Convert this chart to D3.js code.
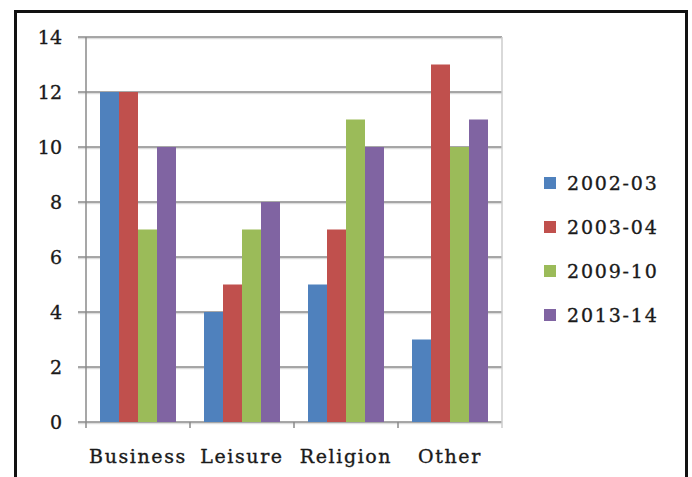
<!DOCTYPE html>
<html>
<head>
<meta charset="utf-8">
<script src="https://cdn.jsdelivr.net/npm/d3@7"></script>
<style>
  body { margin: 0; background: #fff; overflow: hidden; }
  svg { display: block; }
  text { font-family: "DejaVu Serif", serif; fill: #1a1a1a; stroke: #1a1a1a; stroke-width: 0.35px; }
</style>
</head>
<body>
<div id="chart"></div>
<script>
// chart data
const categories = ["Business", "Leisure", "Religion", "Other"];
const seriesNames = ["2002-03", "2003-04", "2009-10", "2013-14"];
const s2002 = [12, 4, 5, 3];
const s2003 = [12, 5, 7, 13];
const s2009 = [7, 7, 11, 10];
const s2013 = [10, 8, 10, 11];
const yTicks = [0, 2, 4, 6, 8, 10, 12, 14];
const colors = ["#4F81BD", "#C0504D", "#9BBB59", "#8064A2"];

const allSeries = [s2002, s2003, s2009, s2013];

const width = 692, height = 477;
const margin = { top: 37, left: 86 };
const innerWidth = 416, innerHeight = 385;

const svg = d3.select("#chart")
  .append("svg")
  .attr("width", width)
  .attr("height", height);

// outer frame (bottom edge falls off the picture)
svg.append("path")
  .attr("d", "M15.5,477 L15.5,11.5 L686.5,11.5 L686.5,477")
  .attr("fill", "none")
  .attr("stroke", "#111")
  .attr("stroke-width", 3);

const xScale = d3.scaleBand()
  .domain(categories)
  .range([0, innerWidth]);

const xInner = d3.scaleBand()
  .domain(seriesNames)
  .range([14, xScale.bandwidth() - 14]);

const yScale = d3.scaleLinear()
  .domain([0, 14])
  .range([innerHeight, 0]);

const inner = svg.append("g")
  .attr("transform", `translate(${margin.left}, ${margin.top})`);

// gridlines with a soft shadow under each
yTicks.forEach(t => {
  inner.append("line")
    .attr("x1", -8).attr("x2", innerWidth)
    .attr("y1", yScale(t) + 1.5).attr("y2", yScale(t) + 1.5)
    .attr("stroke", "#ddd").attr("stroke-width", 1.5);
  inner.append("line")
    .attr("x1", -8).attr("x2", innerWidth)
    .attr("y1", yScale(t)).attr("y2", yScale(t))
    .attr("stroke", "#8a8a8a").attr("stroke-width", 1.5);
});

// right edge of plot
inner.append("line")
  .attr("x1", innerWidth).attr("x2", innerWidth)
  .attr("y1", 0).attr("y2", innerHeight + 6)
  .attr("stroke", "#ccc").attr("stroke-width", 1.5);

// bars
const groups = inner.selectAll("g.cat")
  .data(categories)
  .join("g")
  .attr("class", "cat")
  .attr("transform", d => `translate(${xScale(d)}, 0)`);

groups.selectAll("rect")
  .data((c, i) => allSeries.map((s, j) => ({ name: seriesNames[j], value: s[i], color: colors[j] })))
  .join("rect")
  .attr("x", d => xInner(d.name))
  .attr("y", d => yScale(d.value))
  .attr("width", xInner.bandwidth())
  .attr("height", d => innerHeight - yScale(d.value))
  .attr("fill", d => d.color);

// left axis line
inner.append("line")
  .attr("x1", 0).attr("x2", 0)
  .attr("y1", 0).attr("y2", innerHeight + 6)
  .attr("stroke", "#8a8a8a").attr("stroke-width", 1.5);

// bottom ticks between categories
categories.slice(1).forEach(c => {
  inner.append("line")
    .attr("x1", xScale(c)).attr("x2", xScale(c))
    .attr("y1", innerHeight).attr("y2", innerHeight + 6)
    .attr("stroke", "#8a8a8a").attr("stroke-width", 1.5);
});

// y tick labels
inner.selectAll("text.ylab")
  .data(yTicks)
  .join("text")
  .attr("class", "ylab")
  .attr("x", -24)
  .attr("y", d => yScale(d))
  .attr("dy", "0.36em")
  .attr("text-anchor", "end")
  .attr("font-size", 19)
  .text(d => d);

// category labels
inner.selectAll("text.xlab")
  .data(categories)
  .join("text")
  .attr("class", "xlab")
  .attr("x", d => xScale(d) + xScale.bandwidth() / 2)
  .attr("y", innerHeight + 41)
  .attr("text-anchor", "middle")
  .attr("font-size", 19)
  .attr("letter-spacing", 1.6)
  .text(d => d);

// legend
const legend = svg.append("g")
  .attr("transform", "translate(544, 183)");

const rowGap = 44;
seriesNames.forEach((name, i) => {
  legend.append("rect")
    .attr("x", 0).attr("y", i * rowGap - 6)
    .attr("width", 12).attr("height", 12)
    .attr("fill", colors[i]);
  legend.append("text")
    .attr("x", 23).attr("y", i * rowGap)
    .attr("dy", "0.36em")
    .attr("font-size", 19)
    .attr("letter-spacing", 1.8)
    .text(name);
});
</script>
</body>
</html>
